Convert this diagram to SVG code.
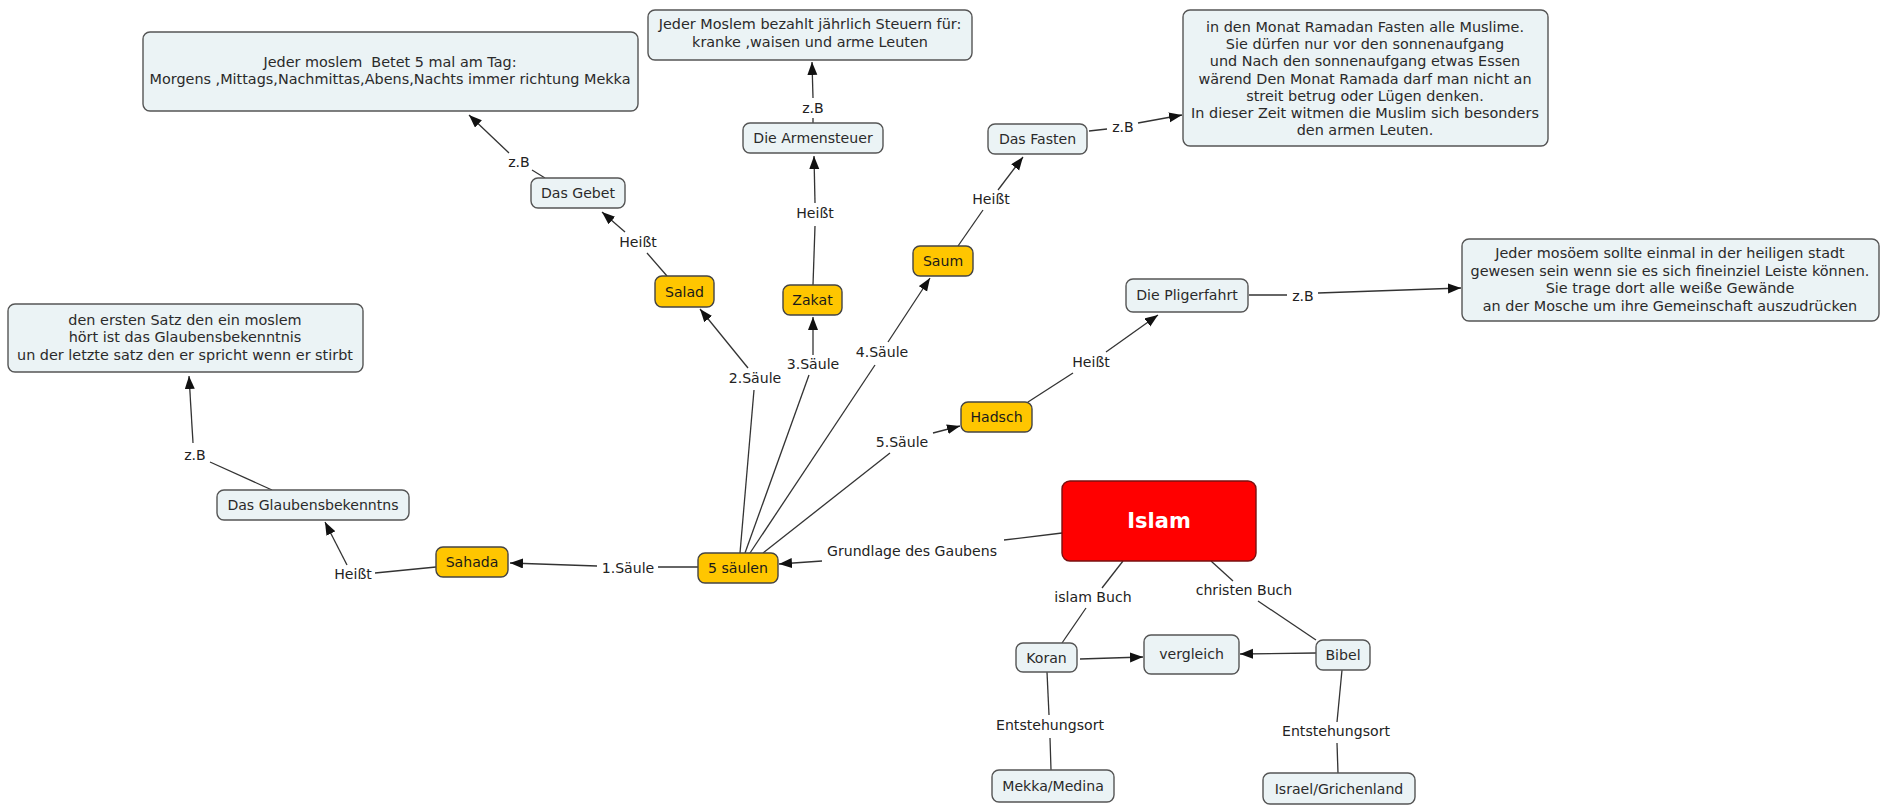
<svg xmlns="http://www.w3.org/2000/svg" width="1884" height="811" viewBox="0 0 1884 811">
<style>
text{font-family:"DejaVu Sans",Verdana,sans-serif;font-size:14.1px;fill:#2a2a2a;text-anchor:middle}
.m text{font-size:14.4px}
.n rect{fill:#ebf3f5;stroke:#555;stroke-width:1.4}
.y rect{fill:#ffc600;stroke:#444;stroke-width:1.4}
.y text{fill:#1a1a1a}
.lbl{fill:#222}
.c line{stroke:#333;stroke-width:1.3;fill:none}
.c .a{marker-end:url(#ah)}
.isl{fill:#fff;font-weight:bold;font-size:21px}
</style>
<defs>
<marker id="ah" markerUnits="userSpaceOnUse" markerWidth="14" markerHeight="12" refX="13" refY="5" orient="auto">
<path d="M0,0 L13,5 L0,10 z" fill="#111"/>
</marker>
</defs>
<rect width="1884" height="811" fill="#fff"/>

<g class="c" id="connectors">
<line x1="545" y1="178" x2="532" y2="170"/>
<line class="a" x1="509" y1="153" x2="469" y2="115"/>
<line x1="667" y1="276" x2="647" y2="253"/>
<line class="a" x1="625" y1="232" x2="602" y2="212"/>
<line x1="813" y1="285" x2="815" y2="226"/>
<line class="a" x1="815" y1="203" x2="814" y2="156"/>
<line x1="813" y1="123" x2="813" y2="118"/>
<line class="a" x1="813" y1="98" x2="812" y2="62"/>
<line x1="958" y1="246" x2="983" y2="210"/>
<line class="a" x1="998" y1="190" x2="1023" y2="157"/>
<line x1="1089" y1="131" x2="1107" y2="129"/>
<line class="a" x1="1138" y1="123" x2="1182" y2="115"/>
<line x1="1028" y1="402" x2="1073" y2="373"/>
<line class="a" x1="1106" y1="352" x2="1158" y2="315"/>
<line x1="1249" y1="295" x2="1287" y2="295"/>
<line class="a" x1="1318" y1="293" x2="1461" y2="288"/>
<line x1="698" y1="567" x2="658" y2="567"/>
<line class="a" x1="597" y1="566" x2="510" y2="563"/>
<line x1="436" y1="567" x2="375" y2="573"/>
<line class="a" x1="347" y1="565" x2="325" y2="522"/>
<line x1="272" y1="490" x2="210" y2="462"/>
<line class="a" x1="193" y1="443" x2="189" y2="376"/>
<line x1="740" y1="553" x2="754" y2="390"/>
<line class="a" x1="748" y1="368" x2="700" y2="309"/>
<line x1="745" y1="553" x2="809" y2="375"/>
<line class="a" x1="813" y1="355" x2="813" y2="317"/>
<line x1="750" y1="553" x2="875" y2="365"/>
<line class="a" x1="888" y1="342" x2="930" y2="278"/>
<line x1="763" y1="553" x2="890" y2="453"/>
<line class="a" x1="933" y1="433" x2="960" y2="426"/>
<line x1="1062" y1="533" x2="1004" y2="540"/>
<line class="a" x1="822" y1="561" x2="779" y2="564"/>
<line x1="1123" y1="561" x2="1102" y2="588"/>
<line x1="1086" y1="608" x2="1062" y2="643"/>
<line x1="1211" y1="561" x2="1233" y2="581"/>
<line x1="1258" y1="601" x2="1316" y2="640"/>
<line class="a" x1="1080" y1="659" x2="1143" y2="657"/>
<line class="a" x1="1316" y1="653" x2="1240" y2="654"/>
<line x1="1047" y1="672" x2="1049" y2="715"/>
<line x1="1050" y1="738" x2="1051" y2="770"/>
<line x1="1342" y1="670" x2="1337" y2="722"/>
<line x1="1337" y1="743" x2="1338" y2="773"/>
</g>

<g id="link-labels">
<text class="lbl" x="519" y="167">z.B</text>
<text class="lbl" x="638" y="247">Heißt</text>
<text class="lbl" x="815" y="218">Heißt</text>
<text class="lbl" x="813" y="113">z.B</text>
<text class="lbl" x="991" y="204">Heißt</text>
<text class="lbl" x="1123" y="132">z.B</text>
<text class="lbl" x="1091" y="367">Heißt</text>
<text class="lbl" x="1303" y="301">z.B</text>
<text class="lbl" x="628" y="573">1.Säule</text>
<text class="lbl" x="353" y="579">Heißt</text>
<text class="lbl" x="195" y="460">z.B</text>
<text class="lbl" x="755" y="383">2.Säule</text>
<text class="lbl" x="813" y="369">3.Säule</text>
<text class="lbl" x="882" y="357">4.Säule</text>
<text class="lbl" x="902" y="447">5.Säule</text>
<text class="lbl" x="912" y="556">Grundlage des Gaubens</text>
<text class="lbl" x="1093" y="602">islam Buch</text>
<text class="lbl" x="1244" y="595">christen Buch</text>
<text class="lbl" x="1050" y="730">Entstehungsort</text>
<text class="lbl" x="1336" y="736">Entstehungsort</text>
</g>

<g id="gebet-text" class="n m"><rect x="143" y="32" width="495" height="79" rx="7"/>
<text x="390" y="67" xml:space="preserve">Jeder moslem  Betet 5 mal am Tag:</text>
<text x="390" y="84">Morgens ,Mittags,Nachmittas,Abens,Nachts immer richtung Mekka</text></g>

<g id="steuer-text" class="n m"><rect x="648" y="10" width="324" height="50" rx="7"/>
<text x="810" y="29">Jeder Moslem bezahlt jährlich Steuern für:</text>
<text x="810" y="47">kranke ,waisen und arme Leuten</text></g>

<g id="ramadan-text" class="n m"><rect x="1183" y="10" width="365" height="136" rx="7"/>
<text x="1365" y="32">in den Monat Ramadan Fasten alle Muslime.</text>
<text x="1365" y="49">Sie dürfen nur vor den sonnenaufgang</text>
<text x="1365" y="66">und Nach den sonnenaufgang etwas Essen</text>
<text x="1365" y="84">wärend Den Monat Ramada darf man nicht an</text>
<text x="1365" y="101">streit betrug oder Lügen denken.</text>
<text x="1365" y="118">In dieser Zeit witmen die Muslim sich besonders</text>
<text x="1365" y="135">den armen Leuten.</text></g>

<g id="pilger-text" class="n m"><rect x="1462" y="239" width="417" height="82" rx="7"/>
<text x="1670" y="258">Jeder mosöem sollte einmal in der heiligen stadt</text>
<text x="1670" y="276">gewesen sein wenn sie es sich fineinziel Leiste können.</text>
<text x="1670" y="293">Sie trage dort alle weiße Gewände</text>
<text x="1670" y="311">an der Mosche um ihre Gemeinschaft auszudrücken</text></g>

<g id="glaubens-text" class="n m"><rect x="8" y="304" width="355" height="68" rx="7"/>
<text x="185" y="325">den ersten Satz den ein moslem</text>
<text x="185" y="342">hört ist das Glaubensbekenntnis</text>
<text x="185" y="360">un der letzte satz den er spricht wenn er stirbt</text></g>

<g id="das-gebet" class="n"><rect x="531" y="178" width="94" height="30" rx="7"/><text x="578" y="198">Das Gebet</text></g>
<g id="die-armensteuer" class="n"><rect x="743" y="123" width="140" height="30" rx="7"/><text x="813" y="143">Die Armensteuer</text></g>
<g id="das-fasten" class="n"><rect x="988" y="124" width="99" height="30" rx="7"/><text x="1037.5" y="144">Das Fasten</text></g>
<g id="die-pligerfahrt" class="n"><rect x="1126" y="279" width="122" height="33" rx="7"/><text x="1187" y="300">Die Pligerfahrt</text></g>
<g id="das-glaubensbekenntns" class="n"><rect x="217" y="490" width="192" height="30" rx="7"/><text x="313" y="510">Das Glaubensbekenntns</text></g>

<g id="salad" class="y"><rect x="655" y="276" width="59" height="31" rx="7"/><text x="684.5" y="297">Salad</text></g>
<g id="zakat" class="y"><rect x="783" y="285" width="59" height="30" rx="7"/><text x="812.5" y="305">Zakat</text></g>
<g id="saum" class="y"><rect x="913" y="246" width="60" height="30" rx="7"/><text x="943" y="266">Saum</text></g>
<g id="hadsch" class="y"><rect x="961" y="402" width="71" height="30" rx="7"/><text x="996.5" y="422">Hadsch</text></g>
<g id="sahada" class="y"><rect x="436" y="547" width="72" height="30" rx="7"/><text x="472" y="567">Sahada</text></g>
<g id="fuenf-saeulen" class="y"><rect x="698" y="553" width="80" height="30" rx="7"/><text x="738" y="573">5 säulen</text></g>

<g id="islam"><rect x="1062" y="481" width="194" height="80" rx="8" fill="#ff0000" stroke="#7a1010" stroke-width="1.4"/><text class="isl" x="1159" y="528">Islam</text></g>

<g id="koran" class="n"><rect x="1016" y="643" width="61" height="29" rx="7"/><text x="1046.5" y="663">Koran</text></g>
<g id="vergleich" class="n"><rect x="1144" y="635" width="95" height="39" rx="7"/><text x="1191.5" y="659">vergleich</text></g>
<g id="bibel" class="n"><rect x="1316" y="640" width="54" height="30" rx="7"/><text x="1343" y="660">Bibel</text></g>
<g id="mekka-medina" class="n"><rect x="992" y="770" width="122" height="32" rx="7"/><text x="1053" y="791">Mekka/Medina</text></g>
<g id="israel-grichenland" class="n"><rect x="1263" y="773" width="152" height="31" rx="7"/><text x="1339" y="794">Israel/Grichenland</text></g>
</svg>
